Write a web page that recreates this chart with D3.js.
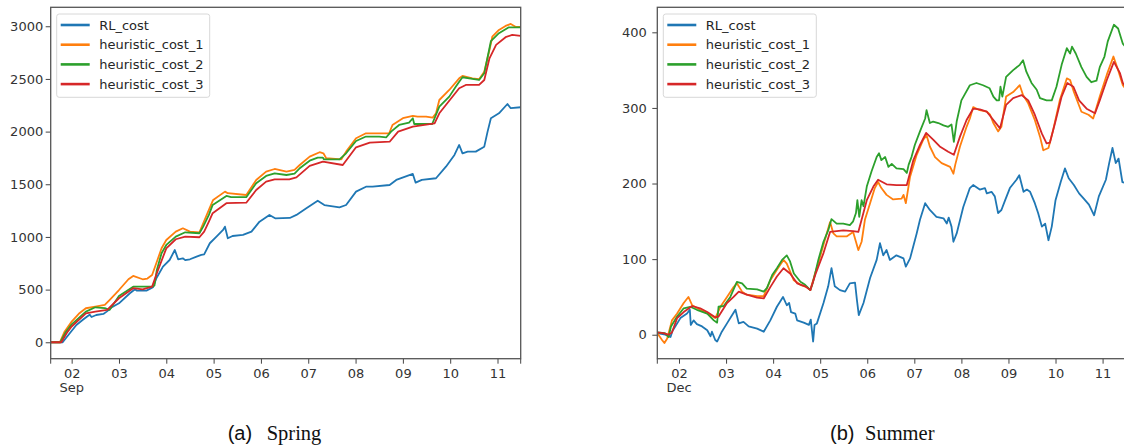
<!DOCTYPE html>
<html>
<head>
<meta charset="utf-8">
<script src="https://cdn.jsdelivr.net/npm/d3@7"></script>
<style>
  html, body { margin: 0; padding: 0; background: #fff; }
  svg { display: block; }
</style>
</head>
<body>
<svg id="chart" width="1124" height="448"></svg>
<script>
// Series names and colours (shared by both panels)
const seriesNames = ["RL_cost", "heuristic_cost_1", "heuristic_cost_2", "heuristic_cost_3"];
const seriesColors = ["#1f77b4", "#ff7f0e", "#2ca02c", "#d62728"];

// Day-of-month ticks and their labels
const dayTicks = [2, 3, 4, 5, 6, 7, 8, 9, 10, 11];
const dayLabels = ["02", "03", "04", "05", "06", "07", "08", "09", "10", "11"];

// ---- Spring (September) : [day of month, cumulative cost] ----
const springMonth = "Sep";
const springYTicks = [0, 500, 1000, 1500, 2000, 2500, 3000];
const springRL = [[1.557,0],[1.81,0],[1.96,85],[2.1,164],[2.25,218],[2.32,243],[2.38,262],[2.42,240],[2.52,259],[2.67,269],[2.74,291],[2.84,330],[3.0,370],[3.23,465],[3.34,503],[3.38,490],[3.58,490],[3.72,522],[3.79,608],[3.93,718],[4.07,781],[4.18,876],[4.25,788],[4.35,797],[4.4,780],[4.5,788],[4.64,813],[4.74,829],[4.8,835],[4.92,940],[5.06,1003],[5.2,1066],[5.24,1098],[5.3,987],[5.4,1009],[5.62,1019],[5.8,1050],[5.97,1145],[6.18,1209],[6.3,1177],[6.61,1180],[6.75,1209],[6.96,1272],[7.2,1344],[7.34,1303],[7.66,1281],[7.8,1303],[8.01,1430],[8.22,1477],[8.36,1477],[8.72,1493],[8.86,1541],[9.21,1598],[9.27,1515],[9.4,1541],[9.7,1557],[9.91,1667],[10.09,1778],[10.19,1873],[10.26,1794],[10.37,1810],[10.54,1810],[10.72,1857],[10.79,2000],[10.86,2127],[11.03,2174],[11.21,2262],[11.28,2222],[11.49,2231]];
const springH1 = [[1.557,0],[1.75,0],[1.85,100],[2.0,196],[2.15,270],[2.3,323],[2.5,338],[2.7,354],[2.8,400],[3.0,496],[3.2,598],[3.3,630],[3.5,598],[3.6,605],[3.7,639],[3.8,765],[3.9,892],[4.0,971],[4.2,1050],[4.35,1082],[4.5,1050],[4.7,1044],[4.78,1130],[4.9,1256],[4.99,1351],[5.24,1430],[5.3,1415],[5.69,1398],[5.9,1541],[6.11,1620],[6.29,1645],[6.54,1620],[6.71,1636],[6.82,1683],[7.03,1762],[7.24,1804],[7.32,1794],[7.38,1747],[7.7,1737],[7.8,1810],[8.01,1937],[8.22,1984],[8.71,1984],[8.78,2063],[9.0,2127],[9.21,2149],[9.31,2142],[9.49,2142],[9.63,2133],[9.7,2174],[9.77,2300],[9.98,2395],[10.19,2506],[10.26,2528],[10.47,2506],[10.61,2497],[10.72,2569],[10.83,2775],[10.89,2901],[11.03,2965],[11.17,3003],[11.28,3022],[11.38,2996],[11.49,2995]];
const springH2 = [[1.557,0],[1.76,0],[1.88,100],[2.0,170],[2.3,291],[2.5,332],[2.7,325],[2.8,307],[3.0,440],[3.3,528],[3.7,528],[3.75,540],[3.8,686],[3.9,845],[4.0,924],[4.2,1003],[4.4,1044],[4.7,1035],[4.78,1098],[4.9,1209],[4.98,1304],[5.27,1389],[5.37,1377],[5.69,1377],[5.9,1510],[6.11,1579],[6.29,1604],[6.54,1588],[6.71,1600],[6.82,1652],[7.03,1724],[7.2,1753],[7.31,1753],[7.33,1737],[7.66,1737],[7.8,1794],[8.01,1911],[8.22,1953],[8.5,1953],[8.65,1946],[8.75,2000],[8.92,2063],[9.13,2085],[9.21,2127],[9.24,2072],[9.62,2072],[9.77,2237],[9.98,2332],[10.12,2427],[10.19,2474],[10.26,2516],[10.47,2500],[10.61,2490],[10.72,2554],[10.86,2858],[11.03,2934],[11.24,2990],[11.49,2990]];
const springH3 = [[1.557,0],[1.78,0],[1.9,90],[2.0,150],[2.3,275],[2.5,291],[2.75,307],[3.0,418],[3.3,513],[3.5,503],[3.7,528],[3.8,655],[4.0,892],[4.2,978],[4.4,1003],[4.7,997],[4.8,1050],[4.9,1145],[4.98,1225],[5.27,1320],[5.69,1325],[5.9,1446],[6.11,1525],[6.29,1547],[6.6,1547],[6.75,1566],[7.03,1674],[7.31,1715],[7.73,1683],[8.01,1851],[8.3,1895],[8.72,1904],[8.9,2000],[9.21,2047],[9.67,2079],[9.77,2174],[10.19,2411],[10.33,2443],[10.61,2443],[10.72,2490],[10.83,2696],[10.97,2823],[11.17,2896],[11.31,2918],[11.49,2908]];

// ---- Summer (December) : [day of month, cumulative cost] ----
const summerMonth = "Dec";
const summerYTicks = [0, 100, 200, 300, 400];
const summerRL = [[1.539,2],[1.71,0],[1.82,-3],[1.86,5],[1.92,11],[2.03,22],[2.17,28],[2.23,33],[2.25,13],[2.31,19],[2.38,14],[2.49,11],[2.6,6],[2.67,-2],[2.7,4],[2.77,-7],[2.81,-9],[2.91,4],[3.02,15],[3.13,26],[3.2,33],[3.27,15],[3.37,17],[3.48,11],[3.66,8],[3.8,4],[3.94,19],[4.08,37],[4.21,50],[4.29,39],[4.34,42],[4.38,30],[4.47,28],[4.51,19],[4.65,16],[4.76,13],[4.8,20],[4.85,-9],[4.88,13],[4.93,15],[5.07,42],[5.17,64],[5.24,88],[5.31,64],[5.42,59],[5.53,57],[5.63,68],[5.74,69],[5.78,46],[5.82,26],[5.92,42],[6.06,75],[6.2,99],[6.27,121],[6.34,105],[6.41,112],[6.48,99],[6.62,105],[6.77,101],[6.82,90],[6.91,101],[7.05,134],[7.12,152],[7.23,174],[7.33,165],[7.47,156],[7.62,154],[7.69,147],[7.73,155],[7.79,143],[7.83,123],[7.9,134],[8.04,169],[8.18,194],[8.25,198],[8.39,192],[8.5,194],[8.54,187],[8.64,189],[8.71,183],[8.78,161],[8.85,165],[8.93,178],[9.03,194],[9.17,205],[9.23,211],[9.32,189],[9.39,192],[9.46,189],[9.56,174],[9.63,161],[9.71,143],[9.78,147],[9.85,125],[9.92,143],[10.0,178],[10.11,202],[10.2,220],[10.28,207],[10.39,198],[10.5,187],[10.6,180],[10.71,172],[10.82,158],[10.92,183],[11.07,205],[11.14,227],[11.21,247],[11.28,227],[11.34,233],[11.42,202],[11.525,200]];
const summerH1 = [[1.539,2],[1.64,-7],[1.69,-11],[1.75,-5],[1.85,19],[1.96,28],[2.1,42],[2.2,50],[2.28,39],[2.45,33],[2.67,26],[2.77,22],[2.88,37],[3.02,50],[3.16,63],[3.23,68],[3.34,57],[3.44,53],[3.66,51],[3.8,51],[3.94,72],[4.08,86],[4.22,99],[4.29,94],[4.44,72],[4.58,66],[4.72,63],[4.79,59],[4.9,83],[4.96,95],[5.07,119],[5.21,149],[5.28,134],[5.35,130],[5.56,130],[5.7,136],[5.76,123],[5.81,112],[5.88,123],[5.95,152],[6.06,174],[6.16,194],[6.23,202],[6.3,194],[6.41,185],[6.55,179],[6.73,180],[6.77,185],[6.82,174],[6.91,209],[7.05,238],[7.19,258],[7.26,264],[7.33,249],[7.44,235],[7.58,227],[7.76,222],[7.83,213],[7.87,225],[7.97,249],[8.11,275],[8.18,286],[8.25,301],[8.39,297],[8.54,295],[8.61,291],[8.68,280],[8.78,269],[8.85,275],[8.95,315],[9.1,321],[9.24,330],[9.31,317],[9.42,306],[9.56,284],[9.67,262],[9.74,244],[9.85,247],[9.95,271],[10.09,310],[10.24,339],[10.31,337],[10.39,321],[10.55,295],[10.7,291],[10.8,286],[10.94,315],[11.09,344],[11.23,368],[11.33,350],[11.43,330],[11.525,322]];
const summerH2 = [[1.539,3],[1.7,2],[1.78,-3],[1.83,11],[1.96,24],[2.1,35],[2.24,37],[2.38,33],[2.6,28],[2.74,19],[2.81,16],[2.84,37],[2.95,38],[3.09,50],[3.23,70],[3.34,68],[3.44,61],[3.66,60],[3.8,57],[3.87,62],[3.98,79],[4.08,88],[4.19,99],[4.29,105],[4.36,97],[4.44,81],[4.58,70],[4.68,66],[4.79,59],[4.84,68],[4.9,83],[4.96,99],[5.07,123],[5.17,138],[5.24,153],[5.35,147],[5.49,147],[5.63,145],[5.7,150],[5.76,161],[5.79,178],[5.83,156],[5.88,178],[5.92,170],[5.99,196],[6.09,216],[6.2,235],[6.25,240],[6.3,231],[6.38,235],[6.45,222],[6.52,226],[6.62,220],[6.77,219],[6.84,214],[6.88,225],[6.94,235],[7.01,251],[7.12,269],[7.23,286],[7.26,297],[7.33,280],[7.4,282],[7.51,280],[7.62,277],[7.72,275],[7.79,278],[7.84,255],[7.9,282],[8.0,310],[8.08,319],[8.18,330],[8.32,333],[8.46,330],[8.6,326],[8.68,315],[8.75,310],[8.8,310],[8.83,328],[8.87,315],[8.95,341],[9.1,350],[9.24,357],[9.31,363],[9.38,348],[9.49,333],[9.6,324],[9.67,313],[9.81,310],[9.92,310],[10.02,328],[10.13,357],[10.24,379],[10.31,372],[10.35,381],[10.43,372],[10.55,354],[10.66,341],[10.76,334],[10.87,336],[10.94,354],[11.04,368],[11.11,388],[11.24,410],[11.33,405],[11.43,385],[11.525,378]];
const summerH3 = [[1.539,3],[1.66,2],[1.78,0],[1.85,3],[1.96,22],[2.1,30],[2.28,38],[2.45,35],[2.6,30],[2.77,23],[2.84,24],[3.02,42],[3.16,50],[3.27,57],[3.44,53],[3.66,49],[3.8,48],[3.94,63],[4.08,77],[4.22,88],[4.36,81],[4.51,68],[4.68,64],[4.79,59],[4.9,80],[5.07,108],[5.21,136],[5.49,138],[5.7,137],[5.81,136],[5.99,178],[6.13,196],[6.23,205],[6.41,199],[6.62,198],[6.84,198],[6.98,231],[7.12,251],[7.25,267],[7.4,258],[7.54,249],[7.72,242],[7.84,238],[7.97,262],[8.11,284],[8.25,299],[8.39,298],[8.54,295],[8.68,284],[8.82,273],[8.95,304],[9.1,313],[9.28,317],[9.42,310],[9.56,291],[9.71,266],[9.81,253],[9.88,254],[9.99,280],[10.13,315],[10.25,333],[10.38,328],[10.5,310],[10.66,299],[10.84,293],[10.94,310],[11.09,337],[11.24,361],[11.37,346],[11.43,333],[11.525,325]];

const svg = d3.select("#chart");
const tickFont = "DejaVu Sans, sans-serif";

function drawPanel(cfg) {
  const g = svg.append("g");
  const x = d3.scaleLinear().domain(cfg.xDomain).range([cfg.left, cfg.right]);
  const y = d3.scaleLinear().domain(cfg.yDomain).range([cfg.bottom, cfg.top]);

  const clipId = "clip-" + cfg.id;
  svg.append("clipPath").attr("id", clipId)
    .append("rect")
    .attr("x", cfg.left).attr("y", cfg.top)
    .attr("width", cfg.right - cfg.left).attr("height", cfg.bottom - cfg.top);

  // data lines (drawn in legend order, last one on top)
  const line = d3.line().x(d => x(d[0])).y(d => y(d[1]));
  const lines = g.append("g").attr("clip-path", `url(#${clipId})`);
  cfg.series.forEach((s, i) => {
    lines.append("path")
      .datum(s)
      .attr("fill", "none")
      .attr("stroke", seriesColors[i])
      .attr("stroke-width", 1.8)
      .attr("stroke-linejoin", "round")
      .attr("d", line);
  });

  // y axis
  const yAxis = d3.axisLeft(y).tickValues(cfg.yTicks).tickSize(5).tickPadding(cfg.yPad)
    .tickFormat(d3.format("d"));
  const ya = g.append("g").attr("transform", `translate(${cfg.left},0)`).call(yAxis);
  ya.select(".domain").remove();
  ya.selectAll("line").attr("stroke", "#444").attr("stroke-width", 1);
  ya.selectAll("text").attr("font-family", tickFont).attr("font-size", 13).attr("fill", "#333");

  // x axis: day ticks plus small end ticks at both edges
  const xAxis = d3.axisBottom(x).tickValues(dayTicks).tickSize(5).tickPadding(3)
    .tickFormat((d, i) => dayLabels[i]);
  const xa = g.append("g").attr("transform", `translate(0,${cfg.bottom})`).call(xAxis);
  xa.select(".domain").remove();
  xa.selectAll("line").attr("stroke", "#444").attr("stroke-width", 1);
  xa.selectAll("text").attr("font-family", tickFont).attr("font-size", 13).attr("fill", "#333")
    .attr("dy", null).attr("y", 378 - cfg.bottom);
  cfg.xDomain.forEach(d => {
    g.append("line")
      .attr("x1", x(d)).attr("x2", x(d))
      .attr("y1", cfg.bottom).attr("y2", cfg.bottom + 5)
      .attr("stroke", "#444").attr("stroke-width", 1);
  });
  g.append("text")
    .attr("x", x(dayTicks[0])).attr("y", 391.5)
    .attr("text-anchor", "middle")
    .attr("font-family", tickFont).attr("font-size", 13).attr("fill", "#333")
    .text(cfg.month);

  // frame
  g.append("rect")
    .attr("x", cfg.left).attr("y", cfg.top)
    .attr("width", cfg.right - cfg.left).attr("height", cfg.bottom - cfg.top)
    .attr("fill", "none").attr("stroke", "#555").attr("stroke-width", 1.3);

  // legend
  const lx = cfg.left + 6, ly = 14;
  const lg = g.append("g").attr("transform", `translate(${lx},${ly})`);
  lg.append("rect")
    .attr("x", 0).attr("y", 0).attr("width", 153).attr("height", 83.3)
    .attr("rx", 2.5)
    .attr("fill", "#fff").attr("fill-opacity", 0.85)
    .attr("stroke", "#d8d8d8").attr("stroke-width", 1);
  seriesNames.forEach((name, i) => {
    const ry = 11 + i * 19.7;
    lg.append("line")
      .attr("x1", 4).attr("x2", 33).attr("y1", ry).attr("y2", ry)
      .attr("stroke", seriesColors[i]).attr("stroke-width", 2.6);
    lg.append("text")
      .attr("x", 42.5).attr("y", ry + 4.6)
      .attr("font-family", tickFont).attr("font-size", 13).attr("fill", "#262626")
      .text(name);
  });

  // caption
  const cap = svg.append("text").attr("x", cfg.capX).attr("y", 440).attr("fill", "#111");
  cap.append("tspan").attr("font-family", "Liberation Sans, Arial, sans-serif")
    .attr("font-size", 20).text(cfg.capLetter);
  cap.append("tspan").attr("x", cfg.capWordX)
    .attr("font-family", "Liberation Serif, Times New Roman, serif")
    .attr("font-size", 20.5).text(cfg.capWord);
}

drawPanel({
  id: "spring",
  left: 50.7, right: 520.7, top: 7.3, bottom: 358.7,
  xDomain: [1.557, 11.49], yDomain: [-156, 3180],
  yTicks: springYTicks, yPad: 2.5, month: springMonth,
  series: [springRL, springH1, springH2, springH3],
  capX: 227.7, capWordX: 266.7, capLetter: "(a)", capWord: "Spring"
});

drawPanel({
  id: "summer",
  left: 657.3, right: 1127.3, top: 7.3, bottom: 358.7,
  xDomain: [1.539, 11.525], yDomain: [-31.7, 433.1],
  yTicks: summerYTicks, yPad: 5.5, month: summerMonth,
  series: [summerRL, summerH1, summerH2, summerH3],
  capX: 830, capWordX: 865, capLetter: "(b)", capWord: "Summer"
});
</script>
</body>
</html>
